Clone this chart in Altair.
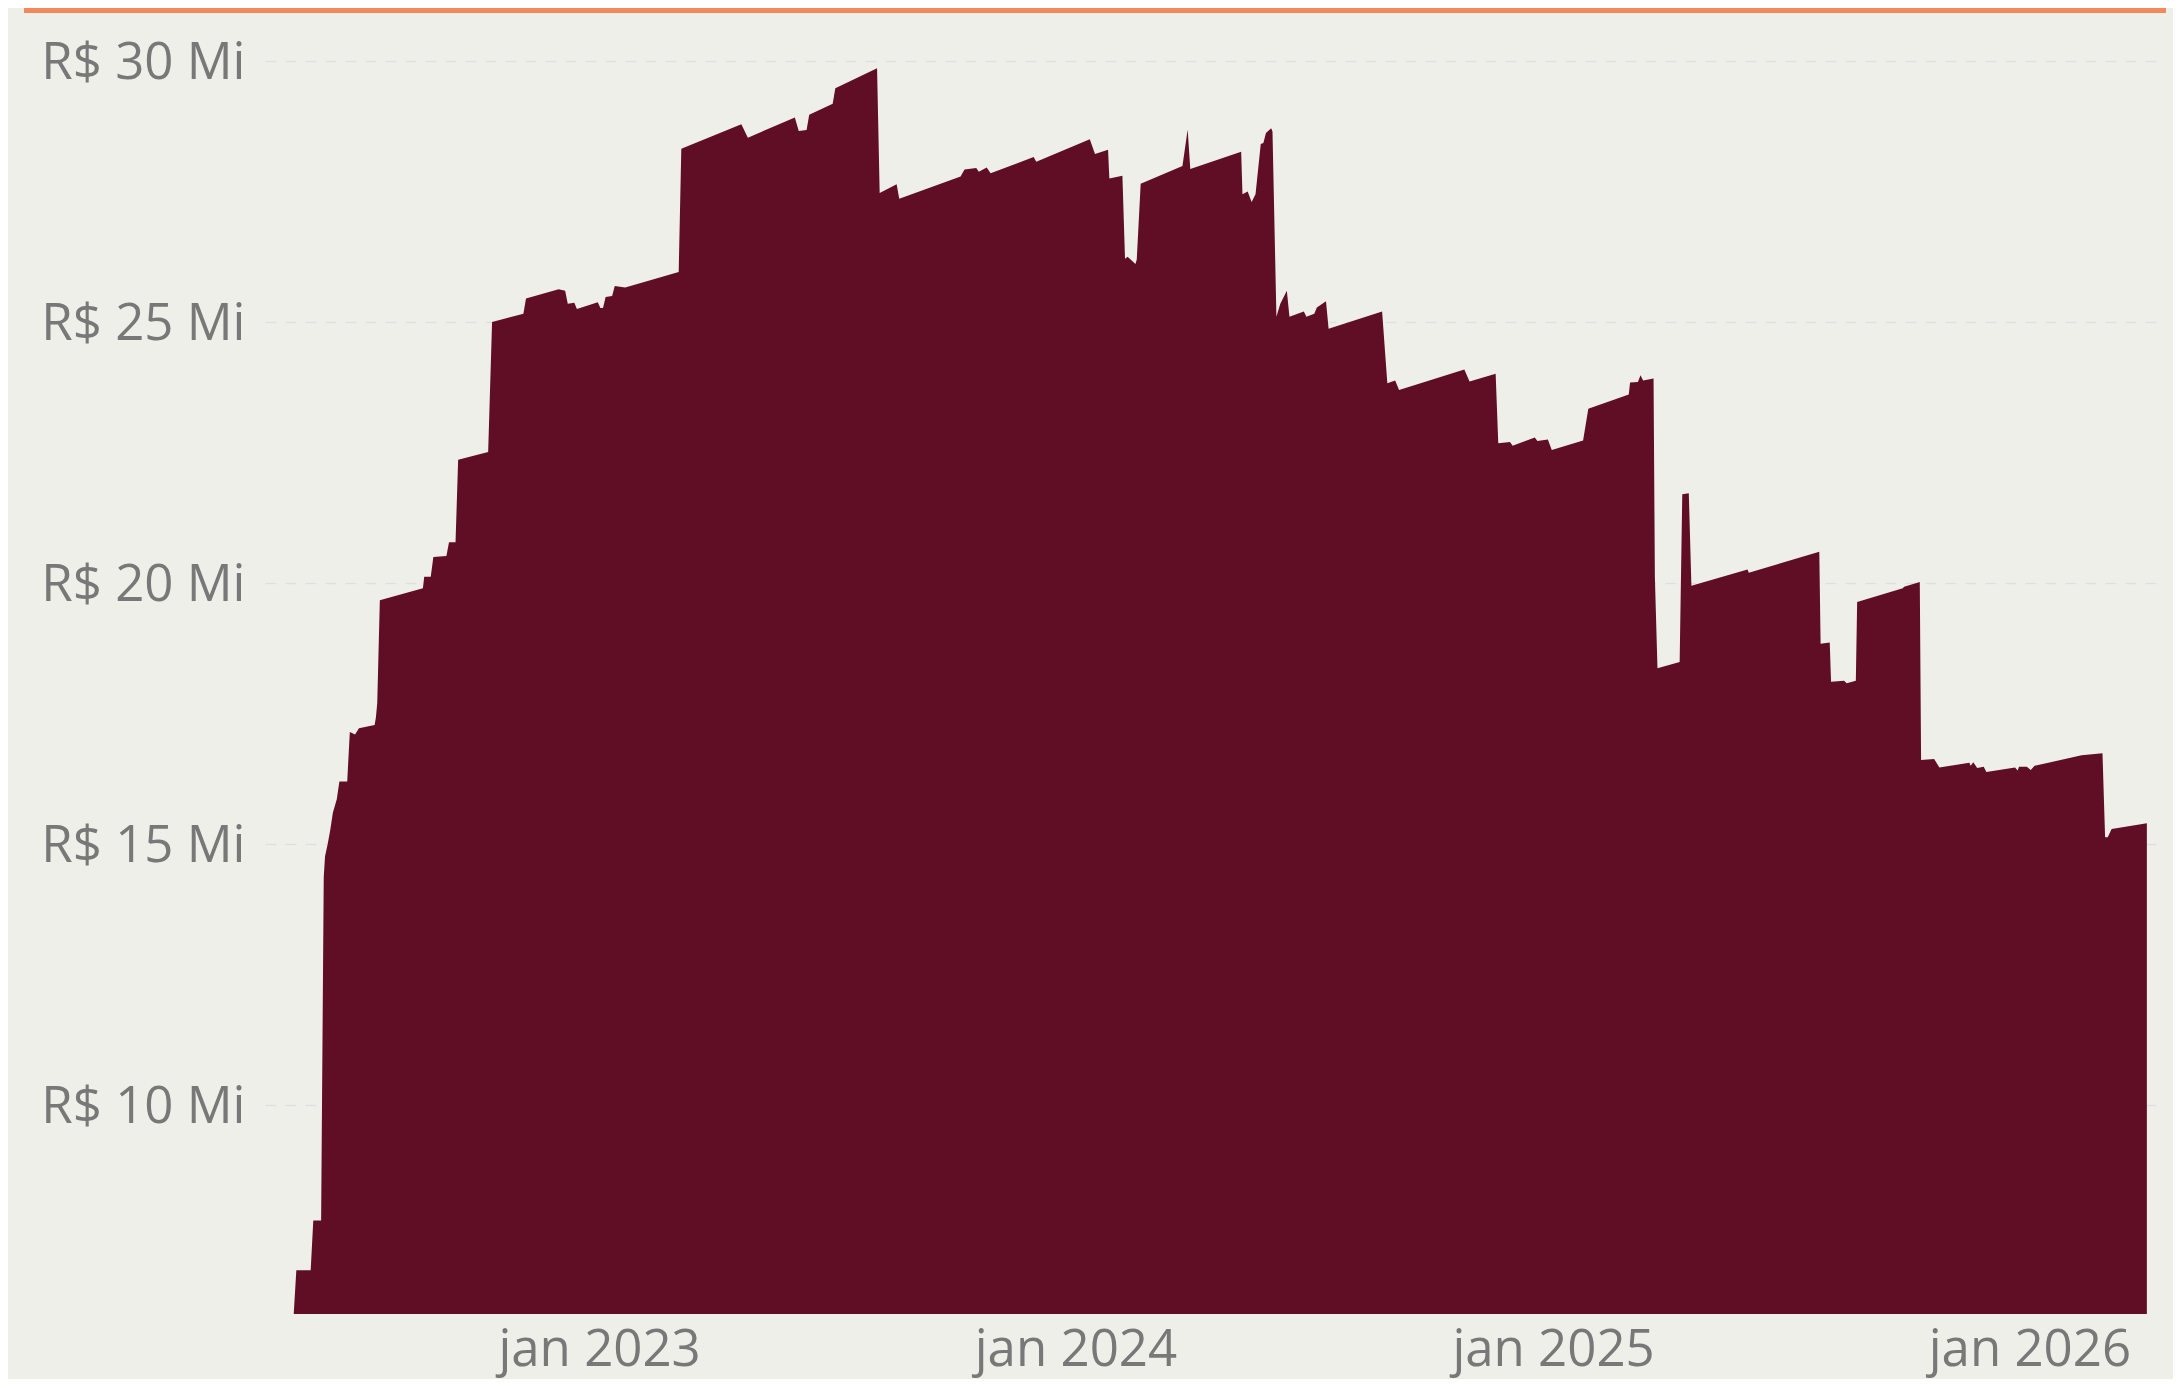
import altair as alt
import pandas as pd

# ---- data (R$ milhões) ----
dates = [
    "2022-05-07", "2022-05-12", "2022-05-14", "2022-05-25", "2022-05-27", "2022-06-02",
    "2022-06-04", "2022-06-05", "2022-06-07", "2022-06-09", "2022-06-11", "2022-06-14",
    "2022-06-16", "2022-06-22", "2022-06-24", "2022-06-28", "2022-07-01", "2022-07-13",
    "2022-07-14", "2022-07-15", "2022-07-17",
    "2022-08-19", "2022-08-20", "2022-08-25", "2022-08-27", "2022-09-06", "2022-09-08",
    "2022-09-13", "2022-09-15", "2022-10-08", "2022-10-11", "2022-11-04", "2022-11-06",
    "2022-12-01", "2022-12-06", "2022-12-08", "2022-12-13", "2022-12-15", "2022-12-31",
    "2023-01-02", "2023-01-04", "2023-01-06", "2023-01-11", "2023-01-13", "2023-01-21",
    "2023-03-03", "2023-03-05", "2023-04-20", "2023-04-25", "2023-05-31", "2023-06-03",
    "2023-06-09", "2023-06-11", "2023-06-29", "2023-07-01", "2023-08-02", "2023-08-04",
    "2023-08-17", "2023-08-19",
    "2023-10-05", "2023-10-08", "2023-10-17", "2023-10-19", "2023-10-25", "2023-10-28",
    "2023-11-30", "2023-12-02", "2024-01-12", "2024-01-16", "2024-01-26", "2024-01-27",
    "2024-02-06", "2024-02-08", "2024-02-10", "2024-02-16", "2024-02-17", "2024-02-20",
    "2024-03-23", "2024-03-27", "2024-03-29", "2024-05-07", "2024-05-08", "2024-05-12",
    "2024-05-15", "2024-05-18", "2024-05-22", "2024-05-24", "2024-05-26", "2024-05-30",
    "2024-05-31", "2024-06-03", "2024-06-06", "2024-06-11", "2024-06-13", "2024-06-24",
    "2024-06-26", "2024-07-02", "2024-07-04", "2024-07-11", "2024-07-13", "2024-08-23",
    "2024-08-27", "2024-09-02", "2024-09-05", "2024-10-25", "2024-10-29", "2024-11-18",
    "2024-11-20", "2024-11-29", "2024-12-01", "2024-12-18", "2024-12-20", "2024-12-28",
    "2024-12-31", "2025-01-24", "2025-01-28", "2025-02-28", "2025-03-01", "2025-03-07",
    "2025-03-09", "2025-03-11", "2025-03-19", "2025-03-20", "2025-03-22", "2025-04-08",
    "2025-04-10", "2025-04-15", "2025-04-17", "2025-05-30", "2025-05-31", "2025-07-24",
    "2025-07-25", "2025-08-01", "2025-08-02", "2025-08-12", "2025-08-14", "2025-08-21",
    "2025-08-22", "2025-09-26", "2025-09-27", "2025-10-09", "2025-10-10", "2025-10-20",
    "2025-10-24", "2025-11-16", "2025-11-17", "2025-11-19", "2025-11-22", "2025-11-27",
    "2025-11-29", "2025-12-21", "2025-12-23", "2025-12-24", "2025-12-30", "2026-01-02",
    "2026-01-05", "2026-02-10", "2026-02-26", "2026-02-28", "2026-03-02", "2026-03-05",
    "2026-04-01",
]
values = [
    6.00, 6.00, 6.84, 6.84, 7.79, 7.79,
    14.36, 14.77, 15.00, 15.27, 15.60, 15.86,
    16.20, 16.20, 17.15, 17.10, 17.22, 17.28,
    17.43, 17.70, 19.67,
    19.90, 20.12, 20.12, 20.50, 20.52, 20.78,
    20.78, 22.36, 22.51, 25.00, 25.16, 25.45,
    25.63, 25.60, 25.35, 25.37, 25.25, 25.38,
    25.27, 25.27, 25.48, 25.50, 25.69, 25.66,
    25.96, 28.32, 28.79, 28.53, 28.92, 28.66,
    28.68, 28.97, 29.18, 29.48, 29.86, 27.47,
    27.64, 27.36,
    27.79, 27.92, 27.95, 27.88, 27.96, 27.85,
    28.16, 28.07, 28.50, 28.22, 28.30, 27.75,
    27.80, 26.21, 26.25, 26.11, 26.20, 27.65,
    27.99, 28.69, 27.93, 28.26, 27.45, 27.50,
    27.30, 27.45, 28.41, 28.43, 28.62, 28.71,
    28.65, 25.10, 25.35, 25.60, 25.10, 25.20,
    25.10, 25.16, 25.28, 25.40, 24.87, 25.20,
    23.83, 23.88, 23.70, 24.09, 23.86, 24.01,
    22.68, 22.70, 22.63, 22.79, 22.72, 22.75,
    22.55, 22.73, 23.34, 23.61, 23.84, 23.85,
    23.98, 23.88, 23.92, 20.12, 18.37, 18.49,
    21.70, 21.72, 19.95, 20.26, 20.20, 20.60,
    18.84, 18.86, 18.11, 18.13, 18.08, 18.13,
    19.64, 19.90, 19.93, 20.02, 16.61, 16.63,
    16.47, 16.56, 16.50, 16.57, 16.46, 16.48,
    16.38, 16.47, 16.41, 16.48, 16.48, 16.42,
    16.50, 16.70, 16.74, 15.13, 15.13, 15.29,
    15.40,
]
y_ticks = [10, 15, 20, 25, 30]
x_tick_years = [2023, 2024, 2025, 2026]
Y_MIN, Y_MAX = 6.0, 30.0

df = pd.DataFrame({"data": dates, "saldo": values})

FONT = "Open Sans"
LABEL_COLOR = "#787878"

x_enc = alt.X(
    "data:T",
    title=None,
    scale=alt.Scale(
        type="utc",
        domain=[
            alt.DateTime(year=2022, month=4, date=20, utc=True),
            alt.DateTime(year=2026, month=4, date=8, utc=True),
        ],
    ),
    axis=alt.Axis(
        values=[alt.DateTime(year=y, month=1, date=1, utc=True) for y in x_tick_years],
        labelExpr="'jan ' + utcFormat(datum.value, '%Y')",
        grid=False,
        domain=False,
        ticks=False,
        tickSize=0,
        labelPadding=11,
        labelFlush=False,
        labelLimit=600,
        labelFont=FONT,
        labelFontSize=51,
        labelColor=LABEL_COLOR,
    ),
)

y_enc = alt.Y(
    "saldo:Q",
    title=None,
    stack=None,
    scale=alt.Scale(domain=[Y_MIN, Y_MAX], zero=False, nice=False),
    axis=alt.Axis(
        values=y_ticks,
        labelExpr="'R$ ' + datum.value + ' Mi'",
        grid=True,
        gridColor="#DDDFE3",
        gridDash=[11, 9],
        gridWidth=1.5,
        domain=False,
        ticks=False,
        tickSize=0,
        labelPadding=20,
        labelOffset=2,
        labelLimit=600,
        labelFont=FONT,
        labelFontSize=51,
        labelColor=LABEL_COLOR,
    ),
)

area = alt.Chart(df).mark_area(
    color="#600E25", opacity=1, interpolate="linear", clip=True
).encode(x=x_enc, y=y_enc, y2=alt.datum(Y_MIN))

top_line = alt.Chart(pd.DataFrame({"k": [0]})).mark_rule(
    color="#F2895D", strokeWidth=6
).encode(x=alt.value(-241), x2=alt.value(1901), y=alt.value(-51))

chart = (
    alt.layer(area, top_line)
    .properties(
        width=1891,
        height=1253,
        padding={"left": 257, "top": 53, "right": 17, "bottom": 65},
        autosize=alt.AutoSizeParams(type="none"),
        background="#EFEFEA",
    )
    .configure_view(stroke=None)
)

chart.save("out.html", embed_options={"renderer": "svg", "actions": False})
